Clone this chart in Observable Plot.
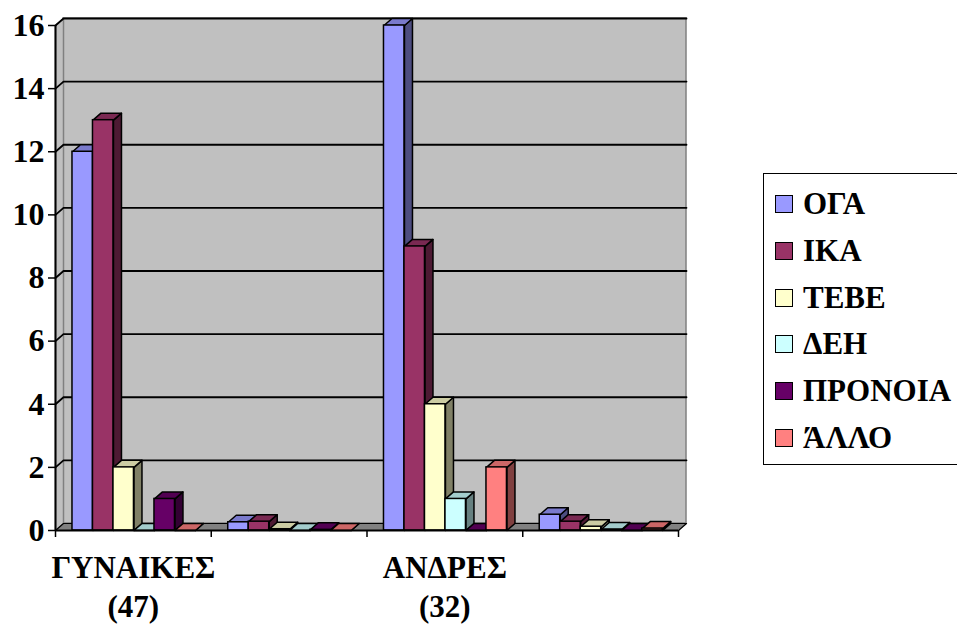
<!DOCTYPE html>
<html><head><meta charset="utf-8">
<script src="https://cdn.jsdelivr.net/npm/d3@7"></script>
<script src="https://cdn.jsdelivr.net/npm/@observablehq/plot@0.6"></script>
<style>
body{margin:0;background:#fff;}
#wrap{position:relative;width:957px;height:626px;font-family:"Liberation Serif","Times New Roman",serif;font-weight:bold;}
#legend{position:absolute;left:763px;top:173px;width:210px;height:292px;border:1.5px solid #000;border-right:none;box-sizing:border-box;background:#fff;}
.item{position:absolute;left:11px;display:flex;align-items:center;font-size:31px;height:32px;line-height:32px;white-space:nowrap;}
.sw{width:16px;height:16px;border:1.5px solid #000;margin-right:10px;flex:none;}
</style></head><body><div id="wrap"></div>
<script>
// ---- data ----
const groups = ["ΓΥΝΑΙΚΕΣ\n(47)", "", "ΑΝΔΡΕΣ\n(32)", ""];
const series = ["ΟΓΑ", "ΙΚΑ", "ΤΕΒΕ", "ΔΕΗ", "ΠΡΟΝΟΙΑ", "ΆΛΛΟ"];
const colors = ["#9999FF", "#993366", "#FFFFCC", "#CCFFFF", "#660066", "#FF8080"];
const valuesG1 = [12, 13, 2, 0, 1, 0];
const valuesG2 = [0.26, 0.28, 0.04, 0, 0.02, 0];
const valuesG3 = [16, 9, 4, 1, 0, 2];
const valuesG4 = [0.5, 0.28, 0.12, 0.03, 0, 0.06];
const yTicks = [0, 2, 4, 6, 8, 10, 12, 14, 16];

// ---- geometry (in data units) ----
const values = [valuesG1, valuesG2, valuesG3, valuesG4];
const pad = 0.109, bw = 0.1316;      // group padding & bar width (fraction of a group)
const dx = 0.0514, dy = 0.222;        // 3D depth offsets
const shade = (c, f) => { const r = d3.rgb(c); return d3.rgb(r.r * f, r.g * f, r.b * f).formatHex(); };

const fronts = [], faces = [];
values.forEach((vals, g) => {
  vals.forEach((v, s) => {
    const x1 = g + pad + s * bw, x2 = x1 + bw, c = colors[s];
    fronts.push({x1, x2, v, fill: c});
    const side = `side-${g}-${s}`, top = `top-${g}-${s}`;
    [[x2, 0], [x2 + dx, dy], [x2 + dx, v + dy], [x2, v]].forEach(([x, y]) => faces.push({id: side, x, y, fill: shade(c, 0.5)}));
    [[x1, v], [x1 + dx, v + dy], [x2 + dx, v + dy], [x2, v]].forEach(([x, y]) => faces.push({id: top, x, y, fill: shade(c, 0.8)}));
  });
});

const nG = groups.length, yMax = yTicks[yTicks.length - 1];
const floor = [[0, 0], [nG, 0], [nG + dx, dy], [dx, dy]].map(([x, y]) => ({x, y}));
const leftWall = [[0, 0], [dx, dy], [dx, yMax + dy], [0, yMax]].map(([x, y]) => ({x, y}));
const grid = [];
yTicks.filter(t => t > 0).forEach(t => {
  grid.push({id: t, x: 0, y: t}, {id: t, x: dx, y: t + dy}, {id: t, x: nG + dx, y: t + dy});
});
const labels = groups.map((label, i) => ({label, x: i + 0.5}));

const FONT = '"Liberation Serif","Times New Roman",serif';

const chart = Plot.plot({
  width: 957, height: 626,
  marginLeft: 55, marginRight: 279, marginTop: 25, marginBottom: 96,
  x: {domain: [0, nG], axis: null},
  y: {domain: [0, yMax], axis: null},
  color: {type: "identity"},
  style: {fontFamily: FONT, fontWeight: "bold", color: "#000", background: "#fff"},
  marks: [
    // back wall
    Plot.rect([0], {x1: dx, x2: nG + dx, y1: dy, y2: yMax + dy, fill: "#C0C0C0", stroke: "#808080", strokeWidth: 1.5}),
    Plot.line(leftWall, {x: "x", y: "y", fill: "#C0C0C0", stroke: "#808080", strokeWidth: 1.5, curve: "linear-closed"}),
    Plot.line(floor, {x: "x", y: "y", fill: "#808080", stroke: "#000", strokeWidth: 1.2, curve: "linear-closed"}),
    Plot.line(grid, {x: "x", y: "y", z: "id", stroke: "#000", strokeWidth: 1.8}),
    // bars: sides & tops, then fronts
    Plot.line(faces, {x: "x", y: "y", z: "id", fill: "fill", stroke: "#000", strokeWidth: 1.5, strokeLinejoin: "round", curve: "linear-closed"}),
    Plot.rect(fronts, {x1: "x1", x2: "x2", y1: 0, y2: "v", fill: "fill", stroke: "#000", strokeWidth: 1.5}),
    // axes
    Plot.ruleX([0], {y1: 0, y2: yMax, stroke: "#000", strokeWidth: 2}),
    Plot.ruleY([0], {x1: 0, x2: nG, stroke: "#000", strokeWidth: 2}),
    Plot.axisY(yTicks, {tickSize: 7, tickPadding: 4, fontSize: 32, fontWeight: "bold", fontFamily: FONT, stroke: "#000", strokeWidth: 1.5, label: null, tickFormat: d => d}),
    Plot.axisX(d3.range(nG + 1), {tickSize: 7, stroke: "#000", strokeWidth: 1.5, label: null, tickFormat: () => ""}),
    Plot.text(labels, {x: "x", y: () => 0, text: "label", dy: 20, lineAnchor: "top", lineHeight: 1.26, fontSize: 31, fontWeight: "bold", fontFamily: FONT, fill: "#000"})
  ]
});

const wrap = document.getElementById("wrap");
wrap.appendChild(chart);

// legend
const legend = document.createElement("div");
legend.id = "legend";
series.forEach((name, i) => {
  const it = document.createElement("div");
  it.className = "item";
  it.style.top = (14 + i * 46.8) + "px";
  const sw = document.createElement("span");
  sw.className = "sw";
  sw.style.background = colors[i];
  it.appendChild(sw);
  it.appendChild(document.createTextNode(name));
  legend.appendChild(it);
});
wrap.appendChild(legend);
</script>
</body></html>
